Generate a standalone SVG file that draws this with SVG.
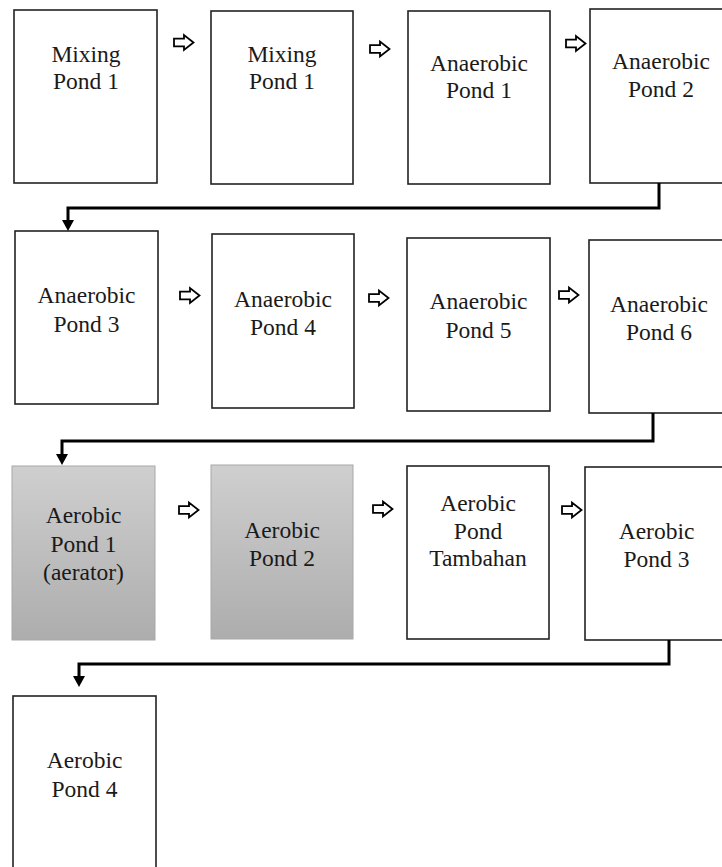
<svg xmlns="http://www.w3.org/2000/svg" width="722" height="867" viewBox="0 0 722 867">
<style>
.box{fill:#fff;stroke:#222;stroke-width:1.6}
.gbox{fill:url(#grey);stroke:#a8a8a8;stroke-width:1}
.lbl{font-family:"Liberation Serif","Times New Roman",serif;font-size:23.5px;fill:#1a1a1a;text-anchor:middle}
.conn{fill:none;stroke:#000;stroke-width:3}
.blk{fill:#fff;stroke:#000;stroke-width:1.8;stroke-linejoin:miter}
</style>
<defs>
<linearGradient id="grey" x1="0" y1="0" x2="0" y2="1">
<stop offset="0" stop-color="#cfcfcf"/>
<stop offset="1" stop-color="#adadad"/>
</linearGradient>
<marker id="ah" viewBox="0 0 11 12" refX="0" refY="6" markerWidth="11" markerHeight="12" markerUnits="userSpaceOnUse" orient="auto">
<path d="M0,0 L11,6 L0,12 Z" fill="#000"/>
</marker>
<path id="blk" d="M0,-3.8 H10 V-7.5 L19.5,0 L10,7.5 V3.8 H0 Z"/>
</defs>

<g id="n1"><rect class="box" x="14" y="10" width="143" height="173"/><text class="lbl" x="86" y="62">Mixing</text><text class="lbl" x="86" y="89">Pond 1</text></g>
<g id="n2"><rect class="box" x="211" y="11" width="142" height="173"/><text class="lbl" x="282" y="62">Mixing</text><text class="lbl" x="282" y="89">Pond 1</text></g>
<g id="n3"><rect class="box" x="408" y="11" width="142" height="173"/><text class="lbl" x="479" y="71">Anaerobic</text><text class="lbl" x="479" y="98">Pond 1</text></g>
<g id="n4"><rect class="box" x="590" y="9" width="143" height="174"/><text class="lbl" x="661" y="69">Anaerobic</text><text class="lbl" x="661" y="97">Pond 2</text></g>

<g id="n5"><rect class="box" x="15" y="231" width="143" height="173"/><text class="lbl" x="86.5" y="303">Anaerobic</text><text class="lbl" x="86.5" y="332">Pond 3</text></g>
<g id="n6"><rect class="box" x="212" y="234" width="142" height="174"/><text class="lbl" x="283" y="307">Anaerobic</text><text class="lbl" x="283" y="335">Pond 4</text></g>
<g id="n7"><rect class="box" x="407" y="238" width="143" height="173"/><text class="lbl" x="478.5" y="309">Anaerobic</text><text class="lbl" x="478.5" y="338">Pond 5</text></g>
<g id="n8"><rect class="box" x="589" y="240" width="143" height="173"/><text class="lbl" x="659" y="312">Anaerobic</text><text class="lbl" x="659" y="340">Pond 6</text></g>

<g id="n9"><rect class="gbox" x="12" y="466" width="143" height="174"/><text class="lbl" x="83.5" y="523">Aerobic</text><text class="lbl" x="83.5" y="552">Pond 1</text><text class="lbl" x="83.5" y="580">(aerator)</text></g>
<g id="n10"><rect class="gbox" x="211" y="465" width="142" height="174"/><text class="lbl" x="282" y="538">Aerobic</text><text class="lbl" x="282" y="566">Pond 2</text></g>
<g id="n11"><rect class="box" x="407" y="466" width="142" height="173"/><text class="lbl" x="478" y="511">Aerobic</text><text class="lbl" x="478" y="539">Pond</text><text class="lbl" x="478" y="566">Tambahan</text></g>
<g id="n12"><rect class="box" x="585" y="467" width="143" height="173"/><text class="lbl" x="656.5" y="539">Aerobic</text><text class="lbl" x="656.5" y="567">Pond 3</text></g>

<g id="n13"><rect class="box" x="13" y="696" width="143" height="185"/><text class="lbl" x="84.5" y="768">Aerobic</text><text class="lbl" x="84.5" y="797">Pond 4</text></g>

<g id="connectors">
<use href="#blk" class="blk" x="174" y="42.5"/>
<use href="#blk" class="blk" x="370" y="49"/>
<use href="#blk" class="blk" x="566" y="43.5"/>
<use href="#blk" class="blk" x="180" y="295.5"/>
<use href="#blk" class="blk" x="369" y="298"/>
<use href="#blk" class="blk" x="559" y="295"/>
<use href="#blk" class="blk" x="179" y="510"/>
<use href="#blk" class="blk" x="373" y="509"/>
<use href="#blk" class="blk" x="562" y="510"/>
<path class="conn" d="M659,183 V208 H68 V220" marker-end="url(#ah)"/>
<path class="conn" d="M653,413 V441 H62 V454" marker-end="url(#ah)"/>
<path class="conn" d="M669,640 V664 H79 V676" marker-end="url(#ah)"/>
</g>
</svg>
